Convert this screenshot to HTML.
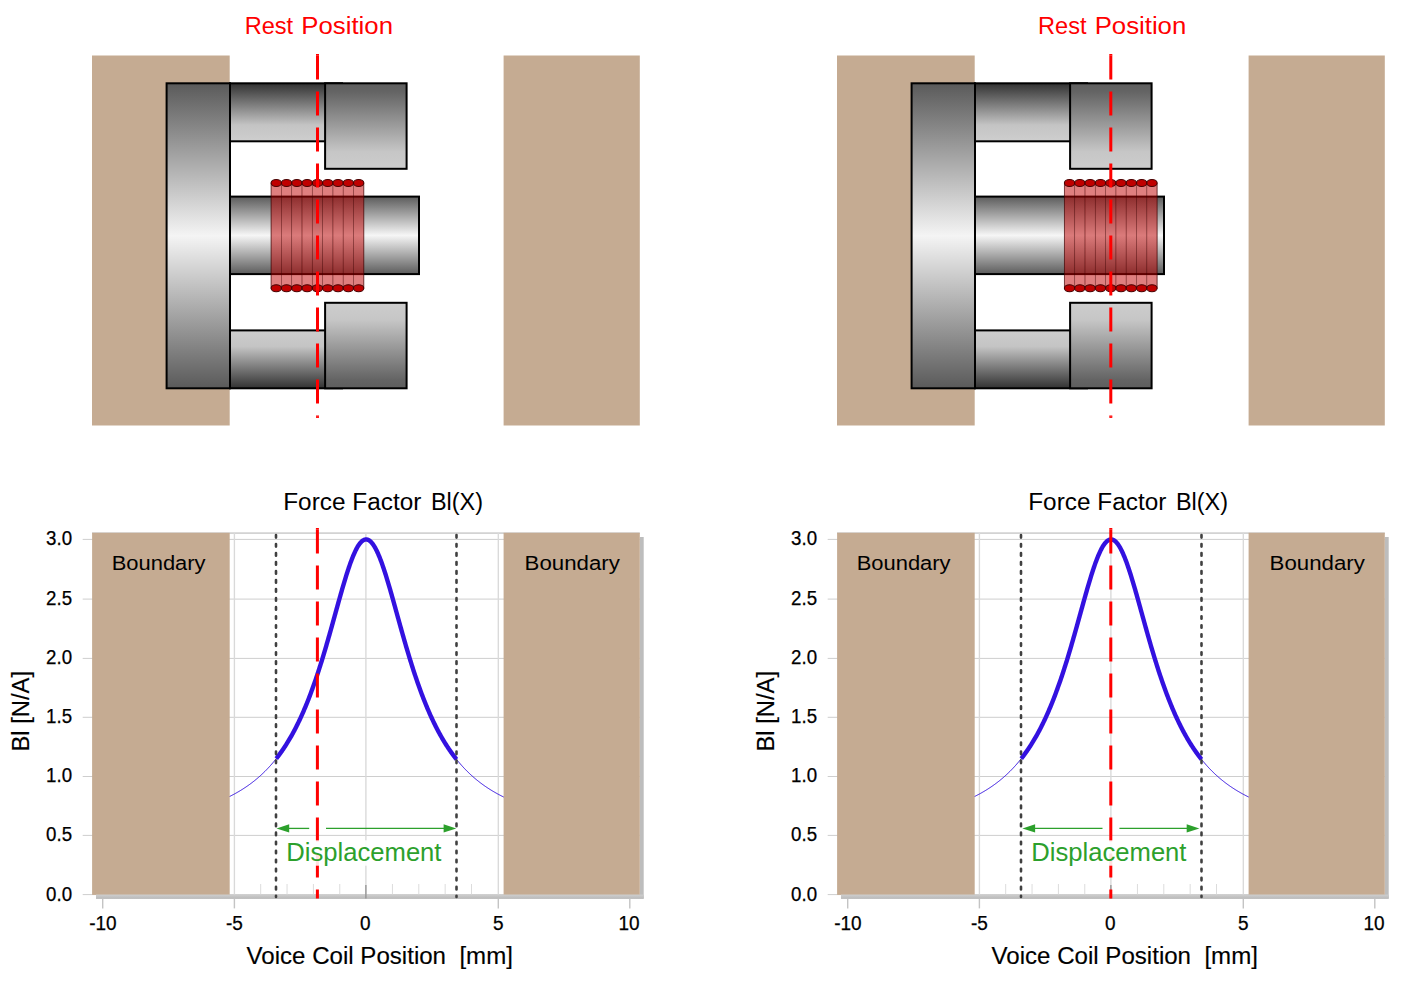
<!DOCTYPE html><html><head><meta charset="utf-8"><title>Force Factor Bl(X)</title>
<style>html,body{margin:0;padding:0;background:#fff;}svg{display:block;}text{font-family:"Liberation Sans",sans-serif;}.k{stroke:#000;stroke-width:0.25;}.k2{stroke:#000;stroke-width:0.15;}</style></head><body>
<svg width="1423" height="982" viewBox="0 0 1423 982">
<defs>
<linearGradient id="gBack" x1="0" y1="0" x2="0" y2="1"><stop offset="0" stop-color="#5a5a5a"/><stop offset="0.5" stop-color="#f4f4f4"/><stop offset="1" stop-color="#5a5a5a"/></linearGradient>
<linearGradient id="gPole" x1="0" y1="0" x2="0" y2="1"><stop offset="0" stop-color="#5c5c5c"/><stop offset="0.5" stop-color="#f6f6f6"/><stop offset="1" stop-color="#5c5c5c"/></linearGradient>
<linearGradient id="gMagT" x1="0" y1="0" x2="0" y2="1"><stop offset="0" stop-color="#323232"/><stop offset="0.72" stop-color="#c4c4c4"/><stop offset="1" stop-color="#cecece"/></linearGradient>
<linearGradient id="gMagB" x1="0" y1="1" x2="0" y2="0"><stop offset="0" stop-color="#323232"/><stop offset="0.72" stop-color="#c4c4c4"/><stop offset="1" stop-color="#cecece"/></linearGradient>
<linearGradient id="gPlT" x1="0" y1="0" x2="0" y2="1"><stop offset="0" stop-color="#5e5e5e"/><stop offset="0.1" stop-color="#646464"/><stop offset="0.8" stop-color="#c6c6c6"/><stop offset="1" stop-color="#cdcdcd"/></linearGradient>
<linearGradient id="gPlB" x1="0" y1="1" x2="0" y2="0"><stop offset="0" stop-color="#5e5e5e"/><stop offset="0.1" stop-color="#646464"/><stop offset="0.8" stop-color="#c6c6c6"/><stop offset="1" stop-color="#cdcdcd"/></linearGradient>
<linearGradient id="gSh" x1="0" y1="0" x2="0" y2="1"><stop offset="0" stop-color="#cfcfcf"/><stop offset="1" stop-color="#b9b9b9"/></linearGradient>
</defs>
<g transform="translate(0,0)">
<rect x="92" y="55.5" width="137.7" height="370" fill="#c5ab92"/>
<rect x="503.6" y="55.5" width="136.2" height="370" fill="#c5ab92"/>
<rect x="230" y="83.3" width="112" height="58" fill="url(#gMagT)" stroke="#000" stroke-width="2"/>
<rect x="230" y="330.4" width="112" height="57.9" fill="url(#gMagB)" stroke="#000" stroke-width="2"/>
<rect x="166.6" y="83.3" width="63.4" height="305" fill="url(#gBack)" stroke="#000" stroke-width="2"/>
<rect x="230" y="196.6" width="189" height="77.5" fill="url(#gPole)" stroke="#000" stroke-width="2"/>
<rect x="325.1" y="83.3" width="81.5" height="85.5" fill="url(#gPlT)" stroke="#000" stroke-width="2"/>
<rect x="325.1" y="302.8" width="81.5" height="85.5" fill="url(#gPlB)" stroke="#000" stroke-width="2"/>
</g>
<g transform="translate(0,0)">
<rect x="271.10" y="183" width="10.30" height="105.2" fill="#c00000" fill-opacity="0.5" stroke="#400000" stroke-opacity="0.42" stroke-width="0.65"/>
<rect x="281.40" y="183" width="10.30" height="105.2" fill="#c00000" fill-opacity="0.5" stroke="#400000" stroke-opacity="0.42" stroke-width="0.65"/>
<rect x="291.70" y="183" width="10.30" height="105.2" fill="#c00000" fill-opacity="0.5" stroke="#400000" stroke-opacity="0.42" stroke-width="0.65"/>
<rect x="302.00" y="183" width="10.30" height="105.2" fill="#c00000" fill-opacity="0.5" stroke="#400000" stroke-opacity="0.42" stroke-width="0.65"/>
<rect x="312.30" y="183" width="10.30" height="105.2" fill="#c00000" fill-opacity="0.5" stroke="#400000" stroke-opacity="0.42" stroke-width="0.65"/>
<rect x="322.60" y="183" width="10.30" height="105.2" fill="#c00000" fill-opacity="0.5" stroke="#400000" stroke-opacity="0.42" stroke-width="0.65"/>
<rect x="332.90" y="183" width="10.30" height="105.2" fill="#c00000" fill-opacity="0.5" stroke="#400000" stroke-opacity="0.42" stroke-width="0.65"/>
<rect x="343.20" y="183" width="10.30" height="105.2" fill="#c00000" fill-opacity="0.5" stroke="#400000" stroke-opacity="0.42" stroke-width="0.65"/>
<rect x="353.50" y="183" width="10.30" height="105.2" fill="#c00000" fill-opacity="0.5" stroke="#400000" stroke-opacity="0.42" stroke-width="0.65"/>
<rect x="271.10" y="183" width="92.70" height="105.2" fill="none" stroke="#400000" stroke-opacity="0.6" stroke-width="0.9"/>
<ellipse cx="276.25" cy="183" rx="5.15" ry="3.55" fill="#c00000" stroke="#480000" stroke-width="1.05"/>
<ellipse cx="276.25" cy="288.2" rx="5.15" ry="3.55" fill="#c00000" stroke="#480000" stroke-width="1.05"/>
<ellipse cx="286.55" cy="183" rx="5.15" ry="3.55" fill="#c00000" stroke="#480000" stroke-width="1.05"/>
<ellipse cx="286.55" cy="288.2" rx="5.15" ry="3.55" fill="#c00000" stroke="#480000" stroke-width="1.05"/>
<ellipse cx="296.85" cy="183" rx="5.15" ry="3.55" fill="#c00000" stroke="#480000" stroke-width="1.05"/>
<ellipse cx="296.85" cy="288.2" rx="5.15" ry="3.55" fill="#c00000" stroke="#480000" stroke-width="1.05"/>
<ellipse cx="307.15" cy="183" rx="5.15" ry="3.55" fill="#c00000" stroke="#480000" stroke-width="1.05"/>
<ellipse cx="307.15" cy="288.2" rx="5.15" ry="3.55" fill="#c00000" stroke="#480000" stroke-width="1.05"/>
<ellipse cx="317.45" cy="183" rx="5.15" ry="3.55" fill="#c00000" stroke="#480000" stroke-width="1.05"/>
<ellipse cx="317.45" cy="288.2" rx="5.15" ry="3.55" fill="#c00000" stroke="#480000" stroke-width="1.05"/>
<ellipse cx="327.75" cy="183" rx="5.15" ry="3.55" fill="#c00000" stroke="#480000" stroke-width="1.05"/>
<ellipse cx="327.75" cy="288.2" rx="5.15" ry="3.55" fill="#c00000" stroke="#480000" stroke-width="1.05"/>
<ellipse cx="338.05" cy="183" rx="5.15" ry="3.55" fill="#c00000" stroke="#480000" stroke-width="1.05"/>
<ellipse cx="338.05" cy="288.2" rx="5.15" ry="3.55" fill="#c00000" stroke="#480000" stroke-width="1.05"/>
<ellipse cx="348.35" cy="183" rx="5.15" ry="3.55" fill="#c00000" stroke="#480000" stroke-width="1.05"/>
<ellipse cx="348.35" cy="288.2" rx="5.15" ry="3.55" fill="#c00000" stroke="#480000" stroke-width="1.05"/>
<ellipse cx="358.65" cy="183" rx="5.15" ry="3.55" fill="#c00000" stroke="#480000" stroke-width="1.05"/>
<ellipse cx="358.65" cy="288.2" rx="5.15" ry="3.55" fill="#c00000" stroke="#480000" stroke-width="1.05"/>
<line x1="317.5" y1="55.5" x2="317.5" y2="416.4" stroke="#ff0000" stroke-width="3" stroke-dasharray="24 12"/>
<rect x="316" y="54.0" width="3" height="1.6" fill="#ff0000"/><rect x="316" y="416.3" width="3" height="1.6" fill="#ff0000"/>
<text x="244.69" y="34" font-size="24.7" fill="#ff0000" textLength="48.49" lengthAdjust="spacingAndGlyphs">Rest</text>
<text x="301.38" y="34" font-size="24.7" fill="#ff0000" textLength="91.59" lengthAdjust="spacingAndGlyphs">Position</text>
</g>
<g transform="translate(745,0)">
<rect x="92" y="55.5" width="137.7" height="370" fill="#c5ab92"/>
<rect x="503.6" y="55.5" width="136.2" height="370" fill="#c5ab92"/>
<rect x="230" y="83.3" width="112" height="58" fill="url(#gMagT)" stroke="#000" stroke-width="2"/>
<rect x="230" y="330.4" width="112" height="57.9" fill="url(#gMagB)" stroke="#000" stroke-width="2"/>
<rect x="166.6" y="83.3" width="63.4" height="305" fill="url(#gBack)" stroke="#000" stroke-width="2"/>
<rect x="230" y="196.6" width="189" height="77.5" fill="url(#gPole)" stroke="#000" stroke-width="2"/>
<rect x="325.1" y="83.3" width="81.5" height="85.5" fill="url(#gPlT)" stroke="#000" stroke-width="2"/>
<rect x="325.1" y="302.8" width="81.5" height="85.5" fill="url(#gPlB)" stroke="#000" stroke-width="2"/>
</g>
<g transform="translate(793.3,0)">
<rect x="271.10" y="183" width="10.30" height="105.2" fill="#c00000" fill-opacity="0.5" stroke="#400000" stroke-opacity="0.42" stroke-width="0.65"/>
<rect x="281.40" y="183" width="10.30" height="105.2" fill="#c00000" fill-opacity="0.5" stroke="#400000" stroke-opacity="0.42" stroke-width="0.65"/>
<rect x="291.70" y="183" width="10.30" height="105.2" fill="#c00000" fill-opacity="0.5" stroke="#400000" stroke-opacity="0.42" stroke-width="0.65"/>
<rect x="302.00" y="183" width="10.30" height="105.2" fill="#c00000" fill-opacity="0.5" stroke="#400000" stroke-opacity="0.42" stroke-width="0.65"/>
<rect x="312.30" y="183" width="10.30" height="105.2" fill="#c00000" fill-opacity="0.5" stroke="#400000" stroke-opacity="0.42" stroke-width="0.65"/>
<rect x="322.60" y="183" width="10.30" height="105.2" fill="#c00000" fill-opacity="0.5" stroke="#400000" stroke-opacity="0.42" stroke-width="0.65"/>
<rect x="332.90" y="183" width="10.30" height="105.2" fill="#c00000" fill-opacity="0.5" stroke="#400000" stroke-opacity="0.42" stroke-width="0.65"/>
<rect x="343.20" y="183" width="10.30" height="105.2" fill="#c00000" fill-opacity="0.5" stroke="#400000" stroke-opacity="0.42" stroke-width="0.65"/>
<rect x="353.50" y="183" width="10.30" height="105.2" fill="#c00000" fill-opacity="0.5" stroke="#400000" stroke-opacity="0.42" stroke-width="0.65"/>
<rect x="271.10" y="183" width="92.70" height="105.2" fill="none" stroke="#400000" stroke-opacity="0.6" stroke-width="0.9"/>
<ellipse cx="276.25" cy="183" rx="5.15" ry="3.55" fill="#c00000" stroke="#480000" stroke-width="1.05"/>
<ellipse cx="276.25" cy="288.2" rx="5.15" ry="3.55" fill="#c00000" stroke="#480000" stroke-width="1.05"/>
<ellipse cx="286.55" cy="183" rx="5.15" ry="3.55" fill="#c00000" stroke="#480000" stroke-width="1.05"/>
<ellipse cx="286.55" cy="288.2" rx="5.15" ry="3.55" fill="#c00000" stroke="#480000" stroke-width="1.05"/>
<ellipse cx="296.85" cy="183" rx="5.15" ry="3.55" fill="#c00000" stroke="#480000" stroke-width="1.05"/>
<ellipse cx="296.85" cy="288.2" rx="5.15" ry="3.55" fill="#c00000" stroke="#480000" stroke-width="1.05"/>
<ellipse cx="307.15" cy="183" rx="5.15" ry="3.55" fill="#c00000" stroke="#480000" stroke-width="1.05"/>
<ellipse cx="307.15" cy="288.2" rx="5.15" ry="3.55" fill="#c00000" stroke="#480000" stroke-width="1.05"/>
<ellipse cx="317.45" cy="183" rx="5.15" ry="3.55" fill="#c00000" stroke="#480000" stroke-width="1.05"/>
<ellipse cx="317.45" cy="288.2" rx="5.15" ry="3.55" fill="#c00000" stroke="#480000" stroke-width="1.05"/>
<ellipse cx="327.75" cy="183" rx="5.15" ry="3.55" fill="#c00000" stroke="#480000" stroke-width="1.05"/>
<ellipse cx="327.75" cy="288.2" rx="5.15" ry="3.55" fill="#c00000" stroke="#480000" stroke-width="1.05"/>
<ellipse cx="338.05" cy="183" rx="5.15" ry="3.55" fill="#c00000" stroke="#480000" stroke-width="1.05"/>
<ellipse cx="338.05" cy="288.2" rx="5.15" ry="3.55" fill="#c00000" stroke="#480000" stroke-width="1.05"/>
<ellipse cx="348.35" cy="183" rx="5.15" ry="3.55" fill="#c00000" stroke="#480000" stroke-width="1.05"/>
<ellipse cx="348.35" cy="288.2" rx="5.15" ry="3.55" fill="#c00000" stroke="#480000" stroke-width="1.05"/>
<ellipse cx="358.65" cy="183" rx="5.15" ry="3.55" fill="#c00000" stroke="#480000" stroke-width="1.05"/>
<ellipse cx="358.65" cy="288.2" rx="5.15" ry="3.55" fill="#c00000" stroke="#480000" stroke-width="1.05"/>
<line x1="317.5" y1="55.5" x2="317.5" y2="416.4" stroke="#ff0000" stroke-width="3" stroke-dasharray="24 12"/>
<rect x="316" y="54.0" width="3" height="1.6" fill="#ff0000"/><rect x="316" y="416.3" width="3" height="1.6" fill="#ff0000"/>
<text x="244.69" y="34" font-size="24.7" fill="#ff0000" textLength="48.49" lengthAdjust="spacingAndGlyphs">Rest</text>
<text x="301.38" y="34" font-size="24.7" fill="#ff0000" textLength="91.59" lengthAdjust="spacingAndGlyphs">Position</text>
</g>
<g transform="translate(0,0)">
<rect x="96" y="537" width="547.7" height="361.7" fill="#bdbdbd"/>
<rect x="92" y="532.3" width="547.8" height="362.3" fill="#fff"/>
<rect x="92" y="532.3" width="547.8" height="1.6" fill="#cfcfcf"/>
<line x1="82.7" y1="894.60" x2="639.8" y2="894.60" stroke="#cecece" stroke-width="1"/>
<line x1="82.7" y1="835.40" x2="639.8" y2="835.40" stroke="#cecece" stroke-width="1"/>
<line x1="82.7" y1="776.50" x2="639.8" y2="776.50" stroke="#cecece" stroke-width="1"/>
<line x1="82.7" y1="717.30" x2="639.8" y2="717.30" stroke="#cecece" stroke-width="1"/>
<line x1="82.7" y1="658.40" x2="639.8" y2="658.40" stroke="#cecece" stroke-width="1"/>
<line x1="82.7" y1="599.10" x2="639.8" y2="599.10" stroke="#cecece" stroke-width="1"/>
<line x1="82.7" y1="539.40" x2="639.8" y2="539.40" stroke="#cecece" stroke-width="1"/>
<line x1="102.70" y1="533" x2="102.70" y2="894.5" stroke="#d9d9d9" stroke-width="1.35"/>
<line x1="234.40" y1="533" x2="234.40" y2="894.5" stroke="#d9d9d9" stroke-width="1.35"/>
<line x1="365.90" y1="533" x2="365.90" y2="894.5" stroke="#d9d9d9" stroke-width="1.35"/>
<line x1="498.30" y1="533" x2="498.30" y2="894.5" stroke="#d9d9d9" stroke-width="1.35"/>
<line x1="629.80" y1="533" x2="629.80" y2="894.5" stroke="#d9d9d9" stroke-width="1.35"/>
<line x1="128.95" y1="884" x2="128.95" y2="894.5" stroke="#dcdcdc" stroke-width="1"/>
<line x1="155.30" y1="884" x2="155.30" y2="894.5" stroke="#dcdcdc" stroke-width="1"/>
<line x1="181.65" y1="884" x2="181.65" y2="894.5" stroke="#dcdcdc" stroke-width="1"/>
<line x1="208.00" y1="884" x2="208.00" y2="894.5" stroke="#dcdcdc" stroke-width="1"/>
<line x1="260.70" y1="884" x2="260.70" y2="894.5" stroke="#dcdcdc" stroke-width="1"/>
<line x1="287.05" y1="884" x2="287.05" y2="894.5" stroke="#dcdcdc" stroke-width="1"/>
<line x1="313.40" y1="884" x2="313.40" y2="894.5" stroke="#dcdcdc" stroke-width="1"/>
<line x1="339.75" y1="884" x2="339.75" y2="894.5" stroke="#dcdcdc" stroke-width="1"/>
<line x1="392.45" y1="884" x2="392.45" y2="894.5" stroke="#dcdcdc" stroke-width="1"/>
<line x1="418.80" y1="884" x2="418.80" y2="894.5" stroke="#dcdcdc" stroke-width="1"/>
<line x1="445.15" y1="884" x2="445.15" y2="894.5" stroke="#dcdcdc" stroke-width="1"/>
<line x1="471.50" y1="884" x2="471.50" y2="894.5" stroke="#dcdcdc" stroke-width="1"/>
<line x1="524.20" y1="884" x2="524.20" y2="894.5" stroke="#dcdcdc" stroke-width="1"/>
<line x1="550.55" y1="884" x2="550.55" y2="894.5" stroke="#dcdcdc" stroke-width="1"/>
<line x1="576.90" y1="884" x2="576.90" y2="894.5" stroke="#dcdcdc" stroke-width="1"/>
<line x1="603.25" y1="884" x2="603.25" y2="894.5" stroke="#dcdcdc" stroke-width="1"/>
<polyline points="226.45,798.02 227.14,797.69 227.84,797.35 228.54,797.01 229.24,796.67 229.94,796.32 230.63,795.97 231.33,795.62 232.03,795.26 232.73,794.89 233.43,794.52 234.13,794.15 234.82,793.77 235.52,793.38 236.22,792.99 236.92,792.60 237.62,792.20 238.32,791.79 239.01,791.38 239.71,790.97 240.41,790.54 241.11,790.12 241.81,789.68 242.51,789.25 243.20,788.80 243.90,788.35 244.60,787.89 245.30,787.43 246.00,786.96 246.69,786.49 247.39,786.00 248.09,785.52 248.79,785.02 249.49,784.52 250.19,784.01 250.88,783.49 251.58,782.97 252.28,782.44 252.98,781.90 253.68,781.35 254.38,780.80 255.07,780.23 255.77,779.66 256.47,779.09 257.17,778.50 257.87,777.90 258.57,777.30 259.26,776.69 259.96,776.07 260.66,775.44 261.36,774.80 262.06,774.15 262.76,773.49 263.45,772.82 264.15,772.15 264.85,771.46 265.55,770.76 266.25,770.05 266.94,769.33 267.64,768.60 268.34,767.86 269.04,767.11 269.74,766.35 270.44,765.57 271.13,764.79 271.83,763.99 272.53,763.18 273.23,762.36 273.93,761.52 274.63,760.67 275.32,759.81 276.02,758.94 276.72,758.05 277.42,757.15 278.12,756.23 278.82,755.31 279.51,754.36 280.21,753.40 280.91,752.43 281.61,751.44 282.31,750.44 283.01,749.42 283.70,748.39 284.40,747.34 285.10,746.27 285.80,745.18 286.50,744.08 287.19,742.97 287.89,741.83 288.59,740.68 289.29,739.51 289.99,738.32 290.69,737.11 291.38,735.88 292.08,734.64 292.78,733.37 293.48,732.09 294.18,730.78 294.88,729.46 295.57,728.11 296.27,726.75 296.97,725.36 297.67,723.95 298.37,722.52 299.07,721.07 299.76,719.59 300.46,718.10 301.16,716.58 301.86,715.04 302.56,713.47 303.26,711.88 303.95,710.27 304.65,708.63 305.35,706.97 306.05,705.29 306.75,703.58 307.44,701.85 308.14,700.09 308.84,698.30 309.54,696.49 310.24,694.66 310.94,692.80 311.63,690.92 312.33,689.01 313.03,687.07 313.73,685.11 314.43,683.12 315.13,681.11 315.82,679.08 316.52,677.01 317.22,674.93 317.92,672.81 318.62,670.68 319.32,668.52 320.01,666.33 320.71,664.12 321.41,661.89 322.11,659.63 322.81,657.35 323.51,655.05 324.20,652.73 324.90,650.39 325.60,648.03 326.30,645.65 327.00,643.25 327.69,640.83 328.39,638.40 329.09,635.95 329.79,633.49 330.49,631.02 331.19,628.53 331.88,626.04 332.58,623.53 333.28,621.02 333.98,618.50 334.68,615.98 335.38,613.46 336.07,610.93 336.77,608.41 337.47,605.90 338.17,603.39 338.87,600.88 339.57,598.39 340.26,595.92 340.96,593.45 341.66,591.01 342.36,588.59 343.06,586.19 343.76,583.82 344.45,581.48 345.15,579.17 345.85,576.89 346.55,574.66 347.25,572.46 347.94,570.31 348.64,568.21 349.34,566.16 350.04,564.16 350.74,562.22 351.44,560.34 352.13,558.52 352.83,556.77 353.53,555.09 354.23,553.48 354.93,551.95 355.63,550.49 356.32,549.11 357.02,547.82 357.72,546.61 358.42,545.49 359.12,544.46 359.82,543.52 360.51,542.68 361.21,541.93 361.91,541.27 362.61,540.72 363.31,540.26 364.01,539.91 364.70,539.65 365.40,539.50 366.10,539.45 366.80,539.50 367.50,539.65 368.19,539.91 368.89,540.26 369.59,540.72 370.29,541.27 370.99,541.93 371.69,542.68 372.38,543.52 373.08,544.46 373.78,545.49 374.48,546.61 375.18,547.82 375.88,549.11 376.57,550.49 377.27,551.95 377.97,553.48 378.67,555.09 379.37,556.77 380.07,558.52 380.76,560.34 381.46,562.22 382.16,564.16 382.86,566.16 383.56,568.21 384.26,570.31 384.95,572.46 385.65,574.66 386.35,576.89 387.05,579.17 387.75,581.48 388.44,583.82 389.14,586.19 389.84,588.59 390.54,591.01 391.24,593.45 391.94,595.92 392.63,598.39 393.33,600.88 394.03,603.39 394.73,605.90 395.43,608.41 396.13,610.93 396.82,613.46 397.52,615.98 398.22,618.50 398.92,621.02 399.62,623.53 400.32,626.04 401.01,628.53 401.71,631.02 402.41,633.49 403.11,635.95 403.81,638.40 404.51,640.83 405.20,643.25 405.90,645.65 406.60,648.03 407.30,650.39 408.00,652.73 408.69,655.05 409.39,657.35 410.09,659.63 410.79,661.89 411.49,664.12 412.19,666.33 412.88,668.52 413.58,670.68 414.28,672.81 414.98,674.93 415.68,677.01 416.38,679.08 417.07,681.11 417.77,683.12 418.47,685.11 419.17,687.07 419.87,689.01 420.57,690.92 421.26,692.80 421.96,694.66 422.66,696.49 423.36,698.30 424.06,700.09 424.76,701.85 425.45,703.58 426.15,705.29 426.85,706.97 427.55,708.63 428.25,710.27 428.94,711.88 429.64,713.47 430.34,715.04 431.04,716.58 431.74,718.10 432.44,719.59 433.13,721.07 433.83,722.52 434.53,723.95 435.23,725.36 435.93,726.75 436.63,728.11 437.32,729.46 438.02,730.78 438.72,732.09 439.42,733.37 440.12,734.64 440.82,735.88 441.51,737.11 442.21,738.32 442.91,739.51 443.61,740.68 444.31,741.83 445.01,742.97 445.70,744.08 446.40,745.18 447.10,746.27 447.80,747.34 448.50,748.39 449.19,749.42 449.89,750.44 450.59,751.44 451.29,752.43 451.99,753.40 452.69,754.36 453.38,755.31 454.08,756.23 454.78,757.15 455.48,758.05 456.18,758.94 456.88,759.81 457.57,760.67 458.27,761.52 458.97,762.36 459.67,763.18 460.37,763.99 461.07,764.79 461.76,765.57 462.46,766.35 463.16,767.11 463.86,767.86 464.56,768.60 465.26,769.33 465.95,770.05 466.65,770.76 467.35,771.46 468.05,772.15 468.75,772.82 469.44,773.49 470.14,774.15 470.84,774.80 471.54,775.44 472.24,776.07 472.94,776.69 473.63,777.30 474.33,777.90 475.03,778.50 475.73,779.09 476.43,779.66 477.13,780.23 477.82,780.80 478.52,781.35 479.22,781.90 479.92,782.44 480.62,782.97 481.32,783.49 482.01,784.01 482.71,784.52 483.41,785.02 484.11,785.52 484.81,786.00 485.51,786.49 486.20,786.96 486.90,787.43 487.60,787.89 488.30,788.35 489.00,788.80 489.69,789.25 490.39,789.68 491.09,790.12 491.79,790.54 492.49,790.97 493.19,791.38 493.88,791.79 494.58,792.20 495.28,792.60 495.98,792.99 496.68,793.38 497.38,793.77 498.07,794.15 498.77,794.52 499.47,794.89 500.17,795.26 500.87,795.62 501.57,795.97 502.26,796.32 502.96,796.67 503.66,797.01 504.36,797.35 505.06,797.69 505.75,798.02" fill="none" stroke="#3311e0" stroke-width="1"/>
<rect x="92.1" y="532.8" width="137.6" height="362.1" fill="#c5ab92"/>
<rect x="503.6" y="532.8" width="136.2" height="362.1" fill="#c5ab92"/>
<rect x="96" y="894.6" width="547.7" height="4.1" fill="url(#gSh)"/>
<line x1="102.70" y1="898.7" x2="102.70" y2="908.4" stroke="#c4c4c4" stroke-width="1.4"/>
<line x1="234.40" y1="898.7" x2="234.40" y2="908.4" stroke="#c4c4c4" stroke-width="1.4"/>
<line x1="498.30" y1="898.7" x2="498.30" y2="908.4" stroke="#c4c4c4" stroke-width="1.4"/>
<line x1="629.80" y1="898.7" x2="629.80" y2="908.4" stroke="#c4c4c4" stroke-width="1.4"/>
<line x1="365.90" y1="885" x2="365.90" y2="898.5" stroke="#8c8c8c" stroke-width="1.2"/>
<polyline points="276.25,758.65 276.70,758.08 277.15,757.50 277.60,756.92 278.05,756.32 278.50,755.73 278.95,755.12 279.40,754.52 279.85,753.90 280.30,753.28 280.75,752.65 281.20,752.02 281.65,751.38 282.10,750.73 282.55,750.08 283.01,749.42 283.46,748.76 283.91,748.08 284.36,747.40 284.81,746.72 285.26,746.02 285.71,745.32 286.16,744.62 286.61,743.90 287.06,743.18 287.51,742.45 287.96,741.72 288.41,740.98 288.86,740.22 289.31,739.47 289.76,738.70 290.21,737.93 290.67,737.15 291.12,736.36 291.57,735.56 292.02,734.76 292.47,733.94 292.92,733.12 293.37,732.29 293.82,731.46 294.27,730.61 294.72,729.76 295.17,728.89 295.62,728.02 296.07,727.14 296.52,726.25 296.97,725.35 297.42,724.45 297.87,723.53 298.33,722.61 298.78,721.67 299.23,720.73 299.68,719.78 300.13,718.82 300.58,717.85 301.03,716.87 301.48,715.88 301.93,714.88 302.38,713.87 302.83,712.85 303.28,711.82 303.73,710.78 304.18,709.74 304.63,708.68 305.08,707.61 305.53,706.53 305.99,705.44 306.44,704.34 306.89,703.23 307.34,702.12 307.79,700.99 308.24,699.85 308.69,698.70 309.14,697.54 309.59,696.36 310.04,695.18 310.49,693.99 310.94,692.79 311.39,691.57 311.84,690.35 312.29,689.12 312.74,687.87 313.19,686.62 313.65,685.35 314.10,684.07 314.55,682.78 315.00,681.49 315.45,680.18 315.90,678.86 316.35,677.53 316.80,676.19 317.25,674.84 317.70,673.48 318.15,672.11 318.60,670.73 319.05,669.33 319.50,667.93 319.95,666.52 320.40,665.10 320.85,663.67 321.31,662.23 321.76,660.78 322.21,659.32 322.66,657.85 323.11,656.37 323.56,654.88 324.01,653.38 324.46,651.88 324.91,650.37 325.36,648.84 325.81,647.31 326.26,645.78 326.71,644.23 327.16,642.68 327.61,641.12 328.06,639.55 328.51,637.98 328.96,636.40 329.42,634.81 329.87,633.22 330.32,631.63 330.77,630.02 331.22,628.42 331.67,626.81 332.12,625.20 332.57,623.58 333.02,621.96 333.47,620.34 333.92,618.71 334.37,617.08 334.82,615.46 335.27,613.83 335.72,612.20 336.17,610.57 336.62,608.95 337.08,607.32 337.53,605.70 337.98,604.08 338.43,602.46 338.88,600.85 339.33,599.24 339.78,597.63 340.23,596.04 340.68,594.45 341.13,592.86 341.58,591.29 342.03,589.72 342.48,588.16 342.93,586.61 343.38,585.08 343.83,583.55 344.28,582.04 344.74,580.54 345.19,579.05 345.64,577.58 346.09,576.13 346.54,574.69 346.99,573.27 347.44,571.86 347.89,570.48 348.34,569.12 348.79,567.77 349.24,566.45 349.69,565.15 350.14,563.87 350.59,562.62 351.04,561.39 351.49,560.19 351.94,559.01 352.40,557.86 352.85,556.74 353.30,555.65 353.75,554.58 354.20,553.55 354.65,552.55 355.10,551.58 355.55,550.64 356.00,549.74 356.45,548.87 356.90,548.04 357.35,547.24 357.80,546.48 358.25,545.75 358.70,545.06 359.15,544.41 359.60,543.79 360.06,543.22 360.51,542.69 360.96,542.19 361.41,541.73 361.86,541.32 362.31,540.95 362.76,540.61 363.21,540.32 363.66,540.07 364.11,539.86 364.56,539.70 365.01,539.57 365.46,539.49 365.91,539.45 366.36,539.46 366.81,539.50 367.26,539.59 367.72,539.72 368.17,539.90 368.62,540.11 369.07,540.37 369.52,540.67 369.97,541.01 370.42,541.39 370.87,541.81 371.32,542.27 371.77,542.77 372.22,543.32 372.67,543.90 373.12,544.52 373.57,545.17 374.02,545.87 374.47,546.60 374.92,547.37 375.38,548.18 375.83,549.02 376.28,549.89 376.73,550.80 377.18,551.74 377.63,552.72 378.08,553.72 378.53,554.76 378.98,555.83 379.43,556.93 379.88,558.05 380.33,559.21 380.78,560.39 381.23,561.60 381.68,562.83 382.13,564.09 382.58,565.37 383.04,566.67 383.49,568.00 383.94,569.35 384.39,570.71 384.84,572.10 385.29,573.51 385.74,574.93 386.19,576.37 386.64,577.83 387.09,579.30 387.54,580.79 387.99,582.29 388.44,583.81 388.89,585.34 389.34,586.88 389.79,588.42 390.24,589.98 390.70,591.55 391.15,593.13 391.60,594.72 392.05,596.31 392.50,597.91 392.95,599.51 393.40,601.12 393.85,602.73 394.30,604.35 394.75,605.97 395.20,607.60 395.65,609.22 396.10,610.85 396.55,612.48 397.00,614.11 397.45,615.73 397.90,617.36 398.36,618.99 398.81,620.61 399.26,622.23 399.71,623.85 400.16,625.47 400.61,627.08 401.06,628.69 401.51,630.30 401.96,631.90 402.41,633.49 402.86,635.08 403.31,636.67 403.76,638.25 404.21,639.82 404.66,641.38 405.11,642.94 405.56,644.49 406.01,646.04 406.47,647.57 406.92,649.10 407.37,650.62 407.82,652.13 408.27,653.64 408.72,655.13 409.17,656.62 409.62,658.10 410.07,659.56 410.52,661.02 410.97,662.47 411.42,663.91 411.87,665.34 412.32,666.76 412.77,668.17 413.22,669.57 413.67,670.96 414.13,672.34 414.58,673.71 415.03,675.07 415.48,676.42 415.93,677.76 416.38,679.08 416.83,680.40 417.28,681.71 417.73,683.00 418.18,684.29 418.63,685.56 419.08,686.83 419.53,688.08 419.98,689.33 420.43,690.56 420.88,691.78 421.33,692.99 421.79,694.19 422.24,695.38 422.69,696.56 423.14,697.73 423.59,698.89 424.04,700.04 424.49,701.18 424.94,702.31 425.39,703.42 425.84,704.53 426.29,705.63 426.74,706.71 427.19,707.79 427.64,708.86 428.09,709.91 428.54,710.96 428.99,712.00 429.45,713.02 429.90,714.04 430.35,715.05 430.80,716.05 431.25,717.03 431.70,718.01 432.15,718.98 432.60,719.94 433.05,720.89 433.50,721.83 433.95,722.77 434.40,723.69 434.85,724.60 435.30,725.51 435.75,726.40 436.20,727.29 436.65,728.17 437.11,729.04 437.56,729.90 438.01,730.75 438.46,731.60 438.91,732.43 439.36,733.26 439.81,734.08 440.26,734.89 440.71,735.70 441.16,736.49 441.61,737.28 442.06,738.06 442.51,738.83 442.96,739.60 443.41,740.35 443.86,741.10 444.31,741.84 444.77,742.58 445.22,743.31 445.67,744.03 446.12,744.74 446.57,745.44 447.02,746.14 447.47,746.83 447.92,747.52 448.37,748.20 448.82,748.87 449.27,749.53 449.72,750.19 450.17,750.84 450.62,751.49 451.07,752.13 451.52,752.76 451.97,753.39 452.43,754.01 452.88,754.62 453.33,755.23 453.78,755.83 454.23,756.43 454.68,757.02 455.13,757.60 455.58,758.18 456.03,758.75 456.48,759.32" fill="none" stroke="#3311e0" stroke-width="4.4" stroke-linejoin="round"/>
<line x1="276.0" y1="535" x2="276.0" y2="897" stroke="#404040" stroke-width="2.6" stroke-linecap="round" stroke-dasharray="2.6 6.42"/>
<line x1="456.5" y1="535" x2="456.5" y2="897" stroke="#404040" stroke-width="2.6" stroke-linecap="round" stroke-dasharray="2.6 6.42"/>
<line x1="286.5" y1="828.4" x2="309.2" y2="828.4" stroke="#2ca02c" stroke-width="1.3"/>
<polygon points="276.5,828.4 289.2,824.1999999999999 289.2,832.6" fill="#2ca02c"/>
<line x1="326" y1="828.4" x2="446.3" y2="828.4" stroke="#2ca02c" stroke-width="1.3"/>
<polygon points="456.3,828.4 443.6,824.1999999999999 443.6,832.6" fill="#2ca02c"/>
</g>
<line x1="317.4" y1="529.5" x2="317.4" y2="897" stroke="#ff0000" stroke-width="3" stroke-dasharray="24 12"/>
<rect x="315.9" y="528.0" width="3" height="1.6" fill="#ff0000"/><rect x="315.9" y="896.9" width="3" height="1.6" fill="#ff0000"/>
<g transform="translate(0,0)">
<rect x="286" y="840.3" width="158" height="25.4" fill="#fff" fill-opacity="0.88"/>
<text x="286.32" y="860.6" font-size="25.4" fill="#2ca02c" textLength="155.18" lengthAdjust="spacingAndGlyphs">Displacement</text>
<text x="283.24" y="509.8" font-size="23.5" fill="#000" textLength="62.22" lengthAdjust="spacingAndGlyphs">Force</text>
<text x="352.38" y="509.8" font-size="23.5" fill="#000" textLength="68.97" lengthAdjust="spacingAndGlyphs">Factor</text>
<text x="430.97" y="509.8" font-size="23.5" fill="#000" textLength="52.09" lengthAdjust="spacingAndGlyphs">Bl(X)</text>
<text x="111.71" y="569.9" font-size="19.6" fill="#000" textLength="93.87" lengthAdjust="spacingAndGlyphs">Boundary</text>
<text x="524.62" y="569.9" font-size="19.6" fill="#000" textLength="95.18" lengthAdjust="spacingAndGlyphs">Boundary</text>
<text x="46.1" y="900.50" font-size="19.6" textLength="26.0" lengthAdjust="spacingAndGlyphs" class="k">0.0</text>
<text x="46.1" y="841.30" font-size="19.6" textLength="26.0" lengthAdjust="spacingAndGlyphs" class="k">0.5</text>
<text x="46.1" y="782.40" font-size="19.6" textLength="26.0" lengthAdjust="spacingAndGlyphs" class="k">1.0</text>
<text x="46.1" y="723.20" font-size="19.6" textLength="26.0" lengthAdjust="spacingAndGlyphs" class="k">1.5</text>
<text x="46.1" y="664.30" font-size="19.6" textLength="26.0" lengthAdjust="spacingAndGlyphs" class="k">2.0</text>
<text x="46.1" y="605.00" font-size="19.6" textLength="26.0" lengthAdjust="spacingAndGlyphs" class="k">2.5</text>
<text x="46.1" y="545.30" font-size="19.6" textLength="26.0" lengthAdjust="spacingAndGlyphs" class="k">3.0</text>
<text x="89.16" y="930.4" font-size="19.6" textLength="27.47" lengthAdjust="spacingAndGlyphs" class="k">-10</text>
<text x="225.95" y="930.4" font-size="19.6" textLength="16.90" lengthAdjust="spacingAndGlyphs" class="k">-5</text>
<text x="360.01" y="930.4" font-size="19.6" textLength="10.57" lengthAdjust="spacingAndGlyphs" class="k">0</text>
<text x="493.01" y="930.4" font-size="19.6" textLength="10.57" lengthAdjust="spacingAndGlyphs" class="k">5</text>
<text x="618.53" y="930.4" font-size="19.6" textLength="21.14" lengthAdjust="spacingAndGlyphs" class="k">10</text>
<text x="246.6" y="963.5" font-size="23.5" textLength="266.3" lengthAdjust="spacingAndGlyphs" xml:space="preserve" class="k2">Voice Coil Position  [mm]</text>
<text transform="translate(28.9,751.6) rotate(-90)" font-size="23.5" textLength="80.6" lengthAdjust="spacingAndGlyphs" class="k2">Bl [N/A]</text>
</g>
<g transform="translate(745,0)">
<rect x="96" y="537" width="547.7" height="361.7" fill="#bdbdbd"/>
<rect x="92" y="532.3" width="547.8" height="362.3" fill="#fff"/>
<rect x="92" y="532.3" width="547.8" height="1.6" fill="#cfcfcf"/>
<line x1="82.7" y1="894.60" x2="639.8" y2="894.60" stroke="#cecece" stroke-width="1"/>
<line x1="82.7" y1="835.40" x2="639.8" y2="835.40" stroke="#cecece" stroke-width="1"/>
<line x1="82.7" y1="776.50" x2="639.8" y2="776.50" stroke="#cecece" stroke-width="1"/>
<line x1="82.7" y1="717.30" x2="639.8" y2="717.30" stroke="#cecece" stroke-width="1"/>
<line x1="82.7" y1="658.40" x2="639.8" y2="658.40" stroke="#cecece" stroke-width="1"/>
<line x1="82.7" y1="599.10" x2="639.8" y2="599.10" stroke="#cecece" stroke-width="1"/>
<line x1="82.7" y1="539.40" x2="639.8" y2="539.40" stroke="#cecece" stroke-width="1"/>
<line x1="102.70" y1="533" x2="102.70" y2="894.5" stroke="#d9d9d9" stroke-width="1.35"/>
<line x1="234.40" y1="533" x2="234.40" y2="894.5" stroke="#d9d9d9" stroke-width="1.35"/>
<line x1="365.90" y1="533" x2="365.90" y2="894.5" stroke="#d9d9d9" stroke-width="1.35"/>
<line x1="498.30" y1="533" x2="498.30" y2="894.5" stroke="#d9d9d9" stroke-width="1.35"/>
<line x1="629.80" y1="533" x2="629.80" y2="894.5" stroke="#d9d9d9" stroke-width="1.35"/>
<line x1="128.95" y1="884" x2="128.95" y2="894.5" stroke="#dcdcdc" stroke-width="1"/>
<line x1="155.30" y1="884" x2="155.30" y2="894.5" stroke="#dcdcdc" stroke-width="1"/>
<line x1="181.65" y1="884" x2="181.65" y2="894.5" stroke="#dcdcdc" stroke-width="1"/>
<line x1="208.00" y1="884" x2="208.00" y2="894.5" stroke="#dcdcdc" stroke-width="1"/>
<line x1="260.70" y1="884" x2="260.70" y2="894.5" stroke="#dcdcdc" stroke-width="1"/>
<line x1="287.05" y1="884" x2="287.05" y2="894.5" stroke="#dcdcdc" stroke-width="1"/>
<line x1="313.40" y1="884" x2="313.40" y2="894.5" stroke="#dcdcdc" stroke-width="1"/>
<line x1="339.75" y1="884" x2="339.75" y2="894.5" stroke="#dcdcdc" stroke-width="1"/>
<line x1="392.45" y1="884" x2="392.45" y2="894.5" stroke="#dcdcdc" stroke-width="1"/>
<line x1="418.80" y1="884" x2="418.80" y2="894.5" stroke="#dcdcdc" stroke-width="1"/>
<line x1="445.15" y1="884" x2="445.15" y2="894.5" stroke="#dcdcdc" stroke-width="1"/>
<line x1="471.50" y1="884" x2="471.50" y2="894.5" stroke="#dcdcdc" stroke-width="1"/>
<line x1="524.20" y1="884" x2="524.20" y2="894.5" stroke="#dcdcdc" stroke-width="1"/>
<line x1="550.55" y1="884" x2="550.55" y2="894.5" stroke="#dcdcdc" stroke-width="1"/>
<line x1="576.90" y1="884" x2="576.90" y2="894.5" stroke="#dcdcdc" stroke-width="1"/>
<line x1="603.25" y1="884" x2="603.25" y2="894.5" stroke="#dcdcdc" stroke-width="1"/>
<polyline points="226.45,798.02 227.14,797.69 227.84,797.35 228.54,797.01 229.24,796.67 229.94,796.32 230.63,795.97 231.33,795.62 232.03,795.26 232.73,794.89 233.43,794.52 234.13,794.15 234.82,793.77 235.52,793.38 236.22,792.99 236.92,792.60 237.62,792.20 238.32,791.79 239.01,791.38 239.71,790.97 240.41,790.54 241.11,790.12 241.81,789.68 242.51,789.25 243.20,788.80 243.90,788.35 244.60,787.89 245.30,787.43 246.00,786.96 246.69,786.49 247.39,786.00 248.09,785.52 248.79,785.02 249.49,784.52 250.19,784.01 250.88,783.49 251.58,782.97 252.28,782.44 252.98,781.90 253.68,781.35 254.38,780.80 255.07,780.23 255.77,779.66 256.47,779.09 257.17,778.50 257.87,777.90 258.57,777.30 259.26,776.69 259.96,776.07 260.66,775.44 261.36,774.80 262.06,774.15 262.76,773.49 263.45,772.82 264.15,772.15 264.85,771.46 265.55,770.76 266.25,770.05 266.94,769.33 267.64,768.60 268.34,767.86 269.04,767.11 269.74,766.35 270.44,765.57 271.13,764.79 271.83,763.99 272.53,763.18 273.23,762.36 273.93,761.52 274.63,760.67 275.32,759.81 276.02,758.94 276.72,758.05 277.42,757.15 278.12,756.23 278.82,755.31 279.51,754.36 280.21,753.40 280.91,752.43 281.61,751.44 282.31,750.44 283.01,749.42 283.70,748.39 284.40,747.34 285.10,746.27 285.80,745.18 286.50,744.08 287.19,742.97 287.89,741.83 288.59,740.68 289.29,739.51 289.99,738.32 290.69,737.11 291.38,735.88 292.08,734.64 292.78,733.37 293.48,732.09 294.18,730.78 294.88,729.46 295.57,728.11 296.27,726.75 296.97,725.36 297.67,723.95 298.37,722.52 299.07,721.07 299.76,719.59 300.46,718.10 301.16,716.58 301.86,715.04 302.56,713.47 303.26,711.88 303.95,710.27 304.65,708.63 305.35,706.97 306.05,705.29 306.75,703.58 307.44,701.85 308.14,700.09 308.84,698.30 309.54,696.49 310.24,694.66 310.94,692.80 311.63,690.92 312.33,689.01 313.03,687.07 313.73,685.11 314.43,683.12 315.13,681.11 315.82,679.08 316.52,677.01 317.22,674.93 317.92,672.81 318.62,670.68 319.32,668.52 320.01,666.33 320.71,664.12 321.41,661.89 322.11,659.63 322.81,657.35 323.51,655.05 324.20,652.73 324.90,650.39 325.60,648.03 326.30,645.65 327.00,643.25 327.69,640.83 328.39,638.40 329.09,635.95 329.79,633.49 330.49,631.02 331.19,628.53 331.88,626.04 332.58,623.53 333.28,621.02 333.98,618.50 334.68,615.98 335.38,613.46 336.07,610.93 336.77,608.41 337.47,605.90 338.17,603.39 338.87,600.88 339.57,598.39 340.26,595.92 340.96,593.45 341.66,591.01 342.36,588.59 343.06,586.19 343.76,583.82 344.45,581.48 345.15,579.17 345.85,576.89 346.55,574.66 347.25,572.46 347.94,570.31 348.64,568.21 349.34,566.16 350.04,564.16 350.74,562.22 351.44,560.34 352.13,558.52 352.83,556.77 353.53,555.09 354.23,553.48 354.93,551.95 355.63,550.49 356.32,549.11 357.02,547.82 357.72,546.61 358.42,545.49 359.12,544.46 359.82,543.52 360.51,542.68 361.21,541.93 361.91,541.27 362.61,540.72 363.31,540.26 364.01,539.91 364.70,539.65 365.40,539.50 366.10,539.45 366.80,539.50 367.50,539.65 368.19,539.91 368.89,540.26 369.59,540.72 370.29,541.27 370.99,541.93 371.69,542.68 372.38,543.52 373.08,544.46 373.78,545.49 374.48,546.61 375.18,547.82 375.88,549.11 376.57,550.49 377.27,551.95 377.97,553.48 378.67,555.09 379.37,556.77 380.07,558.52 380.76,560.34 381.46,562.22 382.16,564.16 382.86,566.16 383.56,568.21 384.26,570.31 384.95,572.46 385.65,574.66 386.35,576.89 387.05,579.17 387.75,581.48 388.44,583.82 389.14,586.19 389.84,588.59 390.54,591.01 391.24,593.45 391.94,595.92 392.63,598.39 393.33,600.88 394.03,603.39 394.73,605.90 395.43,608.41 396.13,610.93 396.82,613.46 397.52,615.98 398.22,618.50 398.92,621.02 399.62,623.53 400.32,626.04 401.01,628.53 401.71,631.02 402.41,633.49 403.11,635.95 403.81,638.40 404.51,640.83 405.20,643.25 405.90,645.65 406.60,648.03 407.30,650.39 408.00,652.73 408.69,655.05 409.39,657.35 410.09,659.63 410.79,661.89 411.49,664.12 412.19,666.33 412.88,668.52 413.58,670.68 414.28,672.81 414.98,674.93 415.68,677.01 416.38,679.08 417.07,681.11 417.77,683.12 418.47,685.11 419.17,687.07 419.87,689.01 420.57,690.92 421.26,692.80 421.96,694.66 422.66,696.49 423.36,698.30 424.06,700.09 424.76,701.85 425.45,703.58 426.15,705.29 426.85,706.97 427.55,708.63 428.25,710.27 428.94,711.88 429.64,713.47 430.34,715.04 431.04,716.58 431.74,718.10 432.44,719.59 433.13,721.07 433.83,722.52 434.53,723.95 435.23,725.36 435.93,726.75 436.63,728.11 437.32,729.46 438.02,730.78 438.72,732.09 439.42,733.37 440.12,734.64 440.82,735.88 441.51,737.11 442.21,738.32 442.91,739.51 443.61,740.68 444.31,741.83 445.01,742.97 445.70,744.08 446.40,745.18 447.10,746.27 447.80,747.34 448.50,748.39 449.19,749.42 449.89,750.44 450.59,751.44 451.29,752.43 451.99,753.40 452.69,754.36 453.38,755.31 454.08,756.23 454.78,757.15 455.48,758.05 456.18,758.94 456.88,759.81 457.57,760.67 458.27,761.52 458.97,762.36 459.67,763.18 460.37,763.99 461.07,764.79 461.76,765.57 462.46,766.35 463.16,767.11 463.86,767.86 464.56,768.60 465.26,769.33 465.95,770.05 466.65,770.76 467.35,771.46 468.05,772.15 468.75,772.82 469.44,773.49 470.14,774.15 470.84,774.80 471.54,775.44 472.24,776.07 472.94,776.69 473.63,777.30 474.33,777.90 475.03,778.50 475.73,779.09 476.43,779.66 477.13,780.23 477.82,780.80 478.52,781.35 479.22,781.90 479.92,782.44 480.62,782.97 481.32,783.49 482.01,784.01 482.71,784.52 483.41,785.02 484.11,785.52 484.81,786.00 485.51,786.49 486.20,786.96 486.90,787.43 487.60,787.89 488.30,788.35 489.00,788.80 489.69,789.25 490.39,789.68 491.09,790.12 491.79,790.54 492.49,790.97 493.19,791.38 493.88,791.79 494.58,792.20 495.28,792.60 495.98,792.99 496.68,793.38 497.38,793.77 498.07,794.15 498.77,794.52 499.47,794.89 500.17,795.26 500.87,795.62 501.57,795.97 502.26,796.32 502.96,796.67 503.66,797.01 504.36,797.35 505.06,797.69 505.75,798.02" fill="none" stroke="#3311e0" stroke-width="1"/>
<rect x="92.1" y="532.8" width="137.6" height="362.1" fill="#c5ab92"/>
<rect x="503.6" y="532.8" width="136.2" height="362.1" fill="#c5ab92"/>
<rect x="96" y="894.6" width="547.7" height="4.1" fill="url(#gSh)"/>
<line x1="102.70" y1="898.7" x2="102.70" y2="908.4" stroke="#c4c4c4" stroke-width="1.4"/>
<line x1="234.40" y1="898.7" x2="234.40" y2="908.4" stroke="#c4c4c4" stroke-width="1.4"/>
<line x1="498.30" y1="898.7" x2="498.30" y2="908.4" stroke="#c4c4c4" stroke-width="1.4"/>
<line x1="629.80" y1="898.7" x2="629.80" y2="908.4" stroke="#c4c4c4" stroke-width="1.4"/>
<line x1="365.90" y1="885" x2="365.90" y2="898.5" stroke="#8c8c8c" stroke-width="1.2"/>
<polyline points="276.25,758.65 276.70,758.08 277.15,757.50 277.60,756.92 278.05,756.32 278.50,755.73 278.95,755.12 279.40,754.52 279.85,753.90 280.30,753.28 280.75,752.65 281.20,752.02 281.65,751.38 282.10,750.73 282.55,750.08 283.01,749.42 283.46,748.76 283.91,748.08 284.36,747.40 284.81,746.72 285.26,746.02 285.71,745.32 286.16,744.62 286.61,743.90 287.06,743.18 287.51,742.45 287.96,741.72 288.41,740.98 288.86,740.22 289.31,739.47 289.76,738.70 290.21,737.93 290.67,737.15 291.12,736.36 291.57,735.56 292.02,734.76 292.47,733.94 292.92,733.12 293.37,732.29 293.82,731.46 294.27,730.61 294.72,729.76 295.17,728.89 295.62,728.02 296.07,727.14 296.52,726.25 296.97,725.35 297.42,724.45 297.87,723.53 298.33,722.61 298.78,721.67 299.23,720.73 299.68,719.78 300.13,718.82 300.58,717.85 301.03,716.87 301.48,715.88 301.93,714.88 302.38,713.87 302.83,712.85 303.28,711.82 303.73,710.78 304.18,709.74 304.63,708.68 305.08,707.61 305.53,706.53 305.99,705.44 306.44,704.34 306.89,703.23 307.34,702.12 307.79,700.99 308.24,699.85 308.69,698.70 309.14,697.54 309.59,696.36 310.04,695.18 310.49,693.99 310.94,692.79 311.39,691.57 311.84,690.35 312.29,689.12 312.74,687.87 313.19,686.62 313.65,685.35 314.10,684.07 314.55,682.78 315.00,681.49 315.45,680.18 315.90,678.86 316.35,677.53 316.80,676.19 317.25,674.84 317.70,673.48 318.15,672.11 318.60,670.73 319.05,669.33 319.50,667.93 319.95,666.52 320.40,665.10 320.85,663.67 321.31,662.23 321.76,660.78 322.21,659.32 322.66,657.85 323.11,656.37 323.56,654.88 324.01,653.38 324.46,651.88 324.91,650.37 325.36,648.84 325.81,647.31 326.26,645.78 326.71,644.23 327.16,642.68 327.61,641.12 328.06,639.55 328.51,637.98 328.96,636.40 329.42,634.81 329.87,633.22 330.32,631.63 330.77,630.02 331.22,628.42 331.67,626.81 332.12,625.20 332.57,623.58 333.02,621.96 333.47,620.34 333.92,618.71 334.37,617.08 334.82,615.46 335.27,613.83 335.72,612.20 336.17,610.57 336.62,608.95 337.08,607.32 337.53,605.70 337.98,604.08 338.43,602.46 338.88,600.85 339.33,599.24 339.78,597.63 340.23,596.04 340.68,594.45 341.13,592.86 341.58,591.29 342.03,589.72 342.48,588.16 342.93,586.61 343.38,585.08 343.83,583.55 344.28,582.04 344.74,580.54 345.19,579.05 345.64,577.58 346.09,576.13 346.54,574.69 346.99,573.27 347.44,571.86 347.89,570.48 348.34,569.12 348.79,567.77 349.24,566.45 349.69,565.15 350.14,563.87 350.59,562.62 351.04,561.39 351.49,560.19 351.94,559.01 352.40,557.86 352.85,556.74 353.30,555.65 353.75,554.58 354.20,553.55 354.65,552.55 355.10,551.58 355.55,550.64 356.00,549.74 356.45,548.87 356.90,548.04 357.35,547.24 357.80,546.48 358.25,545.75 358.70,545.06 359.15,544.41 359.60,543.79 360.06,543.22 360.51,542.69 360.96,542.19 361.41,541.73 361.86,541.32 362.31,540.95 362.76,540.61 363.21,540.32 363.66,540.07 364.11,539.86 364.56,539.70 365.01,539.57 365.46,539.49 365.91,539.45 366.36,539.46 366.81,539.50 367.26,539.59 367.72,539.72 368.17,539.90 368.62,540.11 369.07,540.37 369.52,540.67 369.97,541.01 370.42,541.39 370.87,541.81 371.32,542.27 371.77,542.77 372.22,543.32 372.67,543.90 373.12,544.52 373.57,545.17 374.02,545.87 374.47,546.60 374.92,547.37 375.38,548.18 375.83,549.02 376.28,549.89 376.73,550.80 377.18,551.74 377.63,552.72 378.08,553.72 378.53,554.76 378.98,555.83 379.43,556.93 379.88,558.05 380.33,559.21 380.78,560.39 381.23,561.60 381.68,562.83 382.13,564.09 382.58,565.37 383.04,566.67 383.49,568.00 383.94,569.35 384.39,570.71 384.84,572.10 385.29,573.51 385.74,574.93 386.19,576.37 386.64,577.83 387.09,579.30 387.54,580.79 387.99,582.29 388.44,583.81 388.89,585.34 389.34,586.88 389.79,588.42 390.24,589.98 390.70,591.55 391.15,593.13 391.60,594.72 392.05,596.31 392.50,597.91 392.95,599.51 393.40,601.12 393.85,602.73 394.30,604.35 394.75,605.97 395.20,607.60 395.65,609.22 396.10,610.85 396.55,612.48 397.00,614.11 397.45,615.73 397.90,617.36 398.36,618.99 398.81,620.61 399.26,622.23 399.71,623.85 400.16,625.47 400.61,627.08 401.06,628.69 401.51,630.30 401.96,631.90 402.41,633.49 402.86,635.08 403.31,636.67 403.76,638.25 404.21,639.82 404.66,641.38 405.11,642.94 405.56,644.49 406.01,646.04 406.47,647.57 406.92,649.10 407.37,650.62 407.82,652.13 408.27,653.64 408.72,655.13 409.17,656.62 409.62,658.10 410.07,659.56 410.52,661.02 410.97,662.47 411.42,663.91 411.87,665.34 412.32,666.76 412.77,668.17 413.22,669.57 413.67,670.96 414.13,672.34 414.58,673.71 415.03,675.07 415.48,676.42 415.93,677.76 416.38,679.08 416.83,680.40 417.28,681.71 417.73,683.00 418.18,684.29 418.63,685.56 419.08,686.83 419.53,688.08 419.98,689.33 420.43,690.56 420.88,691.78 421.33,692.99 421.79,694.19 422.24,695.38 422.69,696.56 423.14,697.73 423.59,698.89 424.04,700.04 424.49,701.18 424.94,702.31 425.39,703.42 425.84,704.53 426.29,705.63 426.74,706.71 427.19,707.79 427.64,708.86 428.09,709.91 428.54,710.96 428.99,712.00 429.45,713.02 429.90,714.04 430.35,715.05 430.80,716.05 431.25,717.03 431.70,718.01 432.15,718.98 432.60,719.94 433.05,720.89 433.50,721.83 433.95,722.77 434.40,723.69 434.85,724.60 435.30,725.51 435.75,726.40 436.20,727.29 436.65,728.17 437.11,729.04 437.56,729.90 438.01,730.75 438.46,731.60 438.91,732.43 439.36,733.26 439.81,734.08 440.26,734.89 440.71,735.70 441.16,736.49 441.61,737.28 442.06,738.06 442.51,738.83 442.96,739.60 443.41,740.35 443.86,741.10 444.31,741.84 444.77,742.58 445.22,743.31 445.67,744.03 446.12,744.74 446.57,745.44 447.02,746.14 447.47,746.83 447.92,747.52 448.37,748.20 448.82,748.87 449.27,749.53 449.72,750.19 450.17,750.84 450.62,751.49 451.07,752.13 451.52,752.76 451.97,753.39 452.43,754.01 452.88,754.62 453.33,755.23 453.78,755.83 454.23,756.43 454.68,757.02 455.13,757.60 455.58,758.18 456.03,758.75 456.48,759.32" fill="none" stroke="#3311e0" stroke-width="4.4" stroke-linejoin="round"/>
<line x1="276.0" y1="535" x2="276.0" y2="897" stroke="#404040" stroke-width="2.6" stroke-linecap="round" stroke-dasharray="2.6 6.42"/>
<line x1="456.5" y1="535" x2="456.5" y2="897" stroke="#404040" stroke-width="2.6" stroke-linecap="round" stroke-dasharray="2.6 6.42"/>
<line x1="287.4" y1="828.4" x2="357.5" y2="828.4" stroke="#2ca02c" stroke-width="1.3"/>
<polygon points="277.4,828.4 290.09999999999997,824.1999999999999 290.09999999999997,832.6" fill="#2ca02c"/>
<line x1="374.4" y1="828.4" x2="444.4" y2="828.4" stroke="#2ca02c" stroke-width="1.3"/>
<polygon points="454.4,828.4 441.7,824.1999999999999 441.7,832.6" fill="#2ca02c"/>
</g>
<line x1="1110.8" y1="529.5" x2="1110.8" y2="897" stroke="#ff0000" stroke-width="3" stroke-dasharray="24 12"/>
<rect x="1109.3" y="528.0" width="3" height="1.6" fill="#ff0000"/><rect x="1109.3" y="896.9" width="3" height="1.6" fill="#ff0000"/>
<g transform="translate(745,0)">
<rect x="286" y="840.3" width="158" height="25.4" fill="#fff" fill-opacity="0.88"/>
<text x="286.32" y="860.6" font-size="25.4" fill="#2ca02c" textLength="155.18" lengthAdjust="spacingAndGlyphs">Displacement</text>
<text x="283.24" y="509.8" font-size="23.5" fill="#000" textLength="62.22" lengthAdjust="spacingAndGlyphs">Force</text>
<text x="352.38" y="509.8" font-size="23.5" fill="#000" textLength="68.97" lengthAdjust="spacingAndGlyphs">Factor</text>
<text x="430.97" y="509.8" font-size="23.5" fill="#000" textLength="52.09" lengthAdjust="spacingAndGlyphs">Bl(X)</text>
<text x="111.71" y="569.9" font-size="19.6" fill="#000" textLength="93.87" lengthAdjust="spacingAndGlyphs">Boundary</text>
<text x="524.62" y="569.9" font-size="19.6" fill="#000" textLength="95.18" lengthAdjust="spacingAndGlyphs">Boundary</text>
<text x="46.1" y="900.50" font-size="19.6" textLength="26.0" lengthAdjust="spacingAndGlyphs" class="k">0.0</text>
<text x="46.1" y="841.30" font-size="19.6" textLength="26.0" lengthAdjust="spacingAndGlyphs" class="k">0.5</text>
<text x="46.1" y="782.40" font-size="19.6" textLength="26.0" lengthAdjust="spacingAndGlyphs" class="k">1.0</text>
<text x="46.1" y="723.20" font-size="19.6" textLength="26.0" lengthAdjust="spacingAndGlyphs" class="k">1.5</text>
<text x="46.1" y="664.30" font-size="19.6" textLength="26.0" lengthAdjust="spacingAndGlyphs" class="k">2.0</text>
<text x="46.1" y="605.00" font-size="19.6" textLength="26.0" lengthAdjust="spacingAndGlyphs" class="k">2.5</text>
<text x="46.1" y="545.30" font-size="19.6" textLength="26.0" lengthAdjust="spacingAndGlyphs" class="k">3.0</text>
<text x="89.16" y="930.4" font-size="19.6" textLength="27.47" lengthAdjust="spacingAndGlyphs" class="k">-10</text>
<text x="225.95" y="930.4" font-size="19.6" textLength="16.90" lengthAdjust="spacingAndGlyphs" class="k">-5</text>
<text x="360.01" y="930.4" font-size="19.6" textLength="10.57" lengthAdjust="spacingAndGlyphs" class="k">0</text>
<text x="493.01" y="930.4" font-size="19.6" textLength="10.57" lengthAdjust="spacingAndGlyphs" class="k">5</text>
<text x="618.53" y="930.4" font-size="19.6" textLength="21.14" lengthAdjust="spacingAndGlyphs" class="k">10</text>
<text x="246.6" y="963.5" font-size="23.5" textLength="266.3" lengthAdjust="spacingAndGlyphs" xml:space="preserve" class="k2">Voice Coil Position  [mm]</text>
<text transform="translate(28.9,751.6) rotate(-90)" font-size="23.5" textLength="80.6" lengthAdjust="spacingAndGlyphs" class="k2">Bl [N/A]</text>
</g>
</svg></body></html>
